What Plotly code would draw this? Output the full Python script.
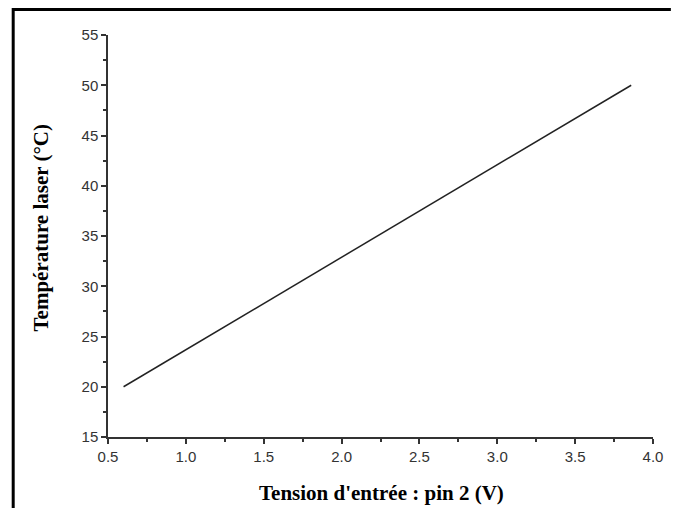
import plotly.graph_objects as go

# data: straight calibration line
tension = [0.6, 3.86]
temperature = [20.0, 50.0]

x_ticks = [0.5, 1.0, 1.5, 2.0, 2.5, 3.0, 3.5, 4.0]
y_ticks = [15, 20, 25, 30, 35, 40, 45, 50, 55]

W, H = 675, 508
L, R, T, B = 108, 18, 35, 71
pw, ph = W - L - R, H - T - B

fig = go.Figure()
fig.add_trace(go.Scatter(x=tension, y=temperature, mode='lines',
                         line=dict(color='#222222', width=1.5), showlegend=False))

tickfont = dict(family='Liberation Sans, Arial', size=15, color='#333333')
titlefont = dict(family='Liberation Serif, Times New Roman', size=21, color='black')

fig.update_xaxes(range=[0.5, 4.0], tickvals=x_ticks, ticktext=['%.1f' % v for v in x_ticks],
                 showline=True, linecolor='#333333', linewidth=1.5, ticks='outside', ticklen=5,
                 tickwidth=1.5, tickcolor='#333333', showgrid=False, zeroline=False, tickfont=tickfont,
                 minor=dict(dtick=0.25, tick0=0.5, ticks='outside', ticklen=3, tickcolor='#333333', tickwidth=1.5))
fig.update_yaxes(range=[15, 55], tickvals=y_ticks, showline=True, linecolor='#333333', linewidth=1.5,
                 ticks='outside', ticklen=5, tickwidth=1.5, tickcolor='#333333', showgrid=False,
                 zeroline=False, tickfont=tickfont,
                 minor=dict(dtick=2.5, tick0=15, ticks='outside', ticklen=3, tickcolor='#333333', tickwidth=1.5))

# axis titles placed as annotations (pixel positions)
fig.add_annotation(text="<b>Tension d'entrée : pin 2 (V)</b>", xref='paper', yref='paper',
                   x=(384 - L) / pw, y=1 - (493 - T) / ph, showarrow=False, font=titlefont,
                   xanchor='center', yanchor='middle')
fig.add_annotation(text='<b>Température laser (°C)</b>', xref='paper', yref='paper',
                   x=(41 - L) / pw, y=1 - (228 - T) / ph, showarrow=False, font=titlefont,
                   textangle=-90, xanchor='center', yanchor='middle')

# thick black frame: only top and left edges are visible in the reference
frame_top = 1 + (T - 9.5) / ph
frame_left = (12.5 - L) / pw
frame_right = 1 + R / pw
frame_bottom = -B / ph
fig.add_shape(type='line', xref='paper', yref='paper', x0=frame_left, x1=frame_right,
              y0=frame_top, y1=frame_top, line=dict(color='black', width=3), layer='above')
fig.add_shape(type='line', xref='paper', yref='paper', x0=frame_left, x1=frame_left,
              y0=frame_bottom, y1=frame_top + 0.004, line=dict(color='black', width=3), layer='above')

fig.update_layout(width=W, height=H, margin=dict(l=L, r=R, t=T, b=B),
                  plot_bgcolor='white', paper_bgcolor='white')

# drop the default body margin so the figure fills the window without scrollbars
fix_page = ("document.body.style.margin='0';"
            "document.body.style.overflow='hidden';"
            "document.documentElement.style.overflow='hidden';")
fig.write_html('out.html', post_script=fix_page, config={'displayModeBar': False})
